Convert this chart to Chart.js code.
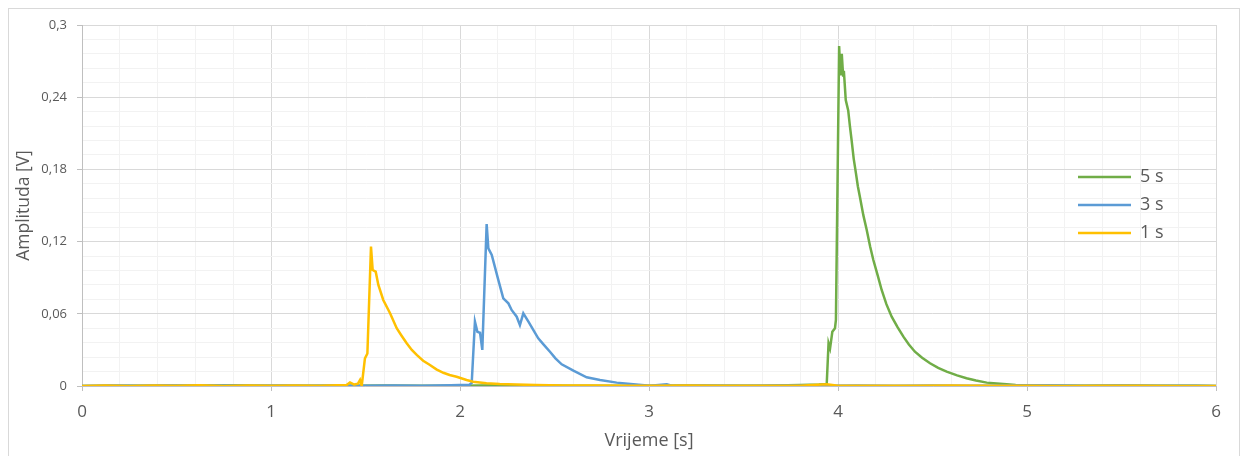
<!DOCTYPE html>
<html>
<head>
<meta charset="utf-8">
<script src="https://cdn.jsdelivr.net/npm/chart.js@4"></script>
<style>
  body { margin: 0; background: #fff; }
  #frame { position: absolute; left: 8px; top: 8px; width: 1230px; height: 460px; border: 1px solid #d9d9d9; }
  #chart { position: absolute; left: 0; top: 0; }
</style>
</head>
<body>
<div id="frame"></div>
<canvas id="chart" width="1247" height="456"></canvas>
<script>
// 1 s series (time [s], amplitude [V])
const time1 = [0, 0.12, 0.25, 0.38, 0.5, 0.62, 0.75, 0.88, 1.0, 1.12, 1.25, 1.35, 1.4, 1.418, 1.44, 1.46, 1.471, 1.48,
  1.497, 1.51, 1.529, 1.538, 1.554, 1.568, 1.594, 1.63, 1.665, 1.69, 1.718, 1.745, 1.771, 1.805, 1.841, 1.875, 1.912, 1.945, 1.982, 2.035, 2.07, 2.14,
  2.21, 2.3, 2.4, 2.55, 2.7, 2.85, 3.0, 3.2, 3.4, 3.6, 3.8, 3.94, 4.0, 4.2, 4.4, 4.6, 4.8, 5.0, 5.2, 5.4, 5.6, 5.8, 6.0];
const amp1 = [0, 0.0004, 0, 0.0005, 0.0002, 0.0006, 0, 0.0004, 0.0003, 0.0005, 0.0002, 0.0006, 0.0008, 0.003, 0.0012, 0.002, 0.005, 0,
  0.023, 0.027, 0.1158, 0.0964, 0.095, 0.084, 0.0715, 0.0605, 0.048, 0.042, 0.0355, 0.030, 0.0258, 0.021, 0.0175, 0.0138, 0.011, 0.0092, 0.0077, 0.005, 0.0036, 0.0022,
  0.0016, 0.0012, 0.0008, 0.0005, 0.0004, 0.0003, 0.0002, 0.0004, 0.0002, 0.0003, 0.0002, 0.0015, 0.0002, 0.0003, 0.0002, 0.0004, 0.0002, 0.0003, 0.0001, 0.0003, 0.0002, 0.0001, 0];

// 3 s series
const time3 = [0, 0.15, 0.3, 0.45, 0.6, 0.75, 0.9, 1.05, 1.2, 1.35, 1.5, 1.65, 1.8, 1.95, 2.05, 2.062, 2.079, 2.092, 2.106, 2.118,
  2.141, 2.15, 2.168, 2.203, 2.229, 2.256, 2.273, 2.3, 2.317, 2.335, 2.362, 2.39, 2.414, 2.445, 2.476, 2.505, 2.538, 2.6, 2.67, 2.741, 2.829, 2.917,
  3.005, 3.094, 3.12, 3.3, 3.5, 3.7, 3.9, 4.1, 4.3, 4.5, 4.7, 4.9, 5.1, 5.3, 5.5, 5.7, 5.9, 6.0];
const amp3 = [0, 0.0005, 0.0002, 0.0006, 0.0003, 0.0004, 0.0002, 0.0005, 0.0003, 0.0004, 0.0002, 0.0005, 0.0003, 0.0006, 0.001, 0.0025, 0.0535, 0.045, 0.0443, 0.030,
  0.1346, 0.1144, 0.109, 0.088, 0.0729, 0.0687, 0.0632, 0.0576, 0.0507, 0.0604, 0.0535, 0.046, 0.0396, 0.034, 0.0285, 0.023, 0.018, 0.0127, 0.0072, 0.005, 0.0028, 0.0014,
  0.0003, 0.0015, 0.0002, 0.0004, 0.0002, 0.0005, 0.0003, 0.0004, 0.0002, 0.0005, 0.0003, 0.0004, 0.0006, 0.0003, 0.0004, 0.0002, 0.0003, 0];

// 5 s series
const time5 = [0, 0.2, 0.4, 0.6, 0.8, 1.0, 1.2, 1.4, 1.6, 1.8, 2.0, 2.2, 2.4, 2.6, 2.8, 3.0, 3.2, 3.4, 3.6, 3.8, 3.9, 3.93, 3.94,
  3.95, 3.958, 3.97, 3.984, 3.989, 4.006, 4.013, 4.02, 4.027, 4.031, 4.041, 4.054, 4.063, 4.072, 4.083, 4.095, 4.105, 4.116, 4.134, 4.152, 4.17, 4.187, 4.21, 4.231,
  4.256, 4.284, 4.315, 4.346, 4.375, 4.407, 4.445, 4.487, 4.53, 4.575, 4.63, 4.68, 4.73, 4.787, 4.84, 4.892, 4.94, 4.99, 5.1, 5.3, 5.5, 5.7, 5.9, 6.0];
const amp5 = [0, 0.0003, 0.0002, 0.0004, 0.0006, 0.0002, 0.0003, 0.0002, 0.0004, 0.0002, 0.0003, 0.0006, 0.0004, 0.0002, 0.0003, 0.0002, 0.0004, 0.0002, 0.0003, 0.0008, 0.0012, 0.0015, 0.0005,
  0.0355, 0.0313, 0.045, 0.048, 0.055, 0.2826, 0.258, 0.276, 0.258, 0.262, 0.2377, 0.229, 0.216, 0.2044, 0.189, 0.1767, 0.166, 0.157, 0.142, 0.1297, 0.116, 0.1047, 0.092, 0.0798,
  0.068, 0.0576, 0.049, 0.041, 0.0345, 0.0285, 0.0235, 0.0189, 0.015, 0.012, 0.0088, 0.0064, 0.0045, 0.0028, 0.0021, 0.0014, 0.0009, 0.0006, 0.0003, 0.0002, 0.0004, 0.0002, 0.0003, 0];

const seriesNames = ["1 s", "3 s", "5 s"];
const seriesColors = ["#ffc000", "#5b9bd5", "#70ad47"];

const xTicks = [0, 1, 2, 3, 4, 5, 6];
const yTicks = [0, 0.06, 0.12, 0.18, 0.24, 0.3];

const textColor = "#595959";
const fontName = "'Open Sans', 'Noto Sans', sans-serif";

function isMajor(v, list) {
  return list.some((m) => Math.abs(m - v) < 1e-6);
}

function toPoints(xs, ys) {
  return xs.map((x, i) => ({ x: x, y: ys[i] }));
}

function makeSet(i, xs, ys) {
  return {
    label: seriesNames[i],
    data: toPoints(xs, ys),
    borderColor: seriesColors[i],
    backgroundColor: seriesColors[i],
    borderWidth: 2.5,
    pointRadius: 0,
    tension: 0,
    fill: false,
  };
}

// moves the legend inside the plot, on the right
const legendInside = {
  id: "legendInside",
  afterLayout(chart) {
    const lg = chart.legend;
    const w = lg.width;
    const h = lg.height;
    lg.left = 1068;
    lg.top = 158;
    lg.right = lg.left + w;
    lg.bottom = lg.top + h;
  },
};

const ctx = document.getElementById("chart").getContext("2d");
const chart = new Chart(ctx, {
  type: "line",
  data: {
    datasets: [makeSet(0, time1, amp1), makeSet(1, time3, amp3), makeSet(2, time5, amp5)],
  },
  options: {
    responsive: false,
    animation: false,
    devicePixelRatio: 1,
    layout: { padding: { top: 25, right: 31, left: 0, bottom: 0 } },
    plugins: {
      tooltip: { enabled: false },
      legend: {
        position: "chartArea",
        align: "start",
        reverse: true,
        labels: {
          usePointStyle: true,
          pointStyle: "line",
          pointStyleWidth: 53,
          boxHeight: 18,
          padding: 10,
          color: textColor,
          font: { family: fontName, size: 18 },
        },
      },
    },
    scales: {
      x: {
        type: "linear",
        min: 0,
        max: 6,
        afterFit: (scale) => { scale.height = 70; },
        border: { color: "#bfbfbf", width: 1 },
        grid: {
          color: (c) => (isMajor(c.tick.value, xTicks) ? "#d9d9d9" : "#f2f2f2"),
          tickColor: (c) => (isMajor(c.tick.value, xTicks) ? "#bfbfbf" : "rgba(0,0,0,0)"),
          tickLength: 5,
          lineWidth: 1,
        },
        ticks: {
          stepSize: 0.2,
          autoSkip: false,
          maxRotation: 0,
          padding: 11,
          color: textColor,
          font: { family: fontName, size: 17 },
          callback: (v) => (isMajor(v, xTicks) ? String(Math.round(v)) : ""),
        },
        title: {
          display: true,
          text: "Vrijeme [s]",
          color: textColor,
          font: { family: fontName, size: 18 },
          padding: { top: 0, bottom: 4 },
        },
      },
      y: {
        type: "linear",
        min: 0,
        max: 0.3,
        afterFit: (scale) => { scale.width = 82; },
        border: { color: "#bfbfbf", width: 1 },
        grid: {
          color: (c) => (isMajor(c.tick.value, yTicks) ? "#d9d9d9" : "#f2f2f2"),
          tickColor: (c) => (isMajor(c.tick.value, yTicks) ? "#bfbfbf" : "rgba(0,0,0,0)"),
          tickLength: 5,
          lineWidth: 1,
        },
        ticks: {
          stepSize: 0.012,
          autoSkip: false,
          padding: 10,
          color: textColor,
          font: { family: fontName, size: 13 },
          callback: (v) => (isMajor(v, yTicks) ? String(Math.round(v * 100) / 100).replace(".", ",") : ""),
        },
        title: {
          display: true,
          text: "Amplituda [V]",
          color: textColor,
          font: { family: fontName, size: 17.5 },
          padding: { top: 14, bottom: 0 },
        },
      },
    },
  },
  plugins: [legendInside],
});
</script>
</body>
</html>
